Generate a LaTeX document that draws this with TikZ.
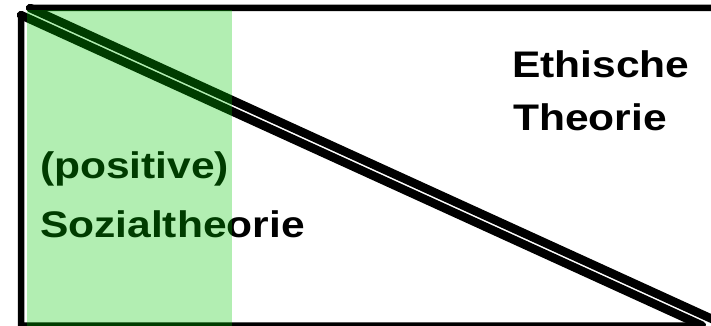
\documentclass[tikz,border=0pt]{standalone}
\usepackage{fontspec}
\setmainfont{Liberation Sans}
\begin{document}
\begin{tikzpicture}[x=1pt,y=-1pt,
  edge/.style={draw=black,line width=6.5pt,line join=round,line cap=round},
  hypo/.style={draw=black,line width=8.5pt,line cap=round},
  label/.style={anchor=base west,inner sep=0pt,outer sep=0pt,xscale=1.15,
    font=\fontsize{37}{44}\selectfont\bfseries},
  highlight/.style={fill={rgb,255:red,0;green,200;blue,0},fill opacity=0.3}]
\useasboundingbox (0,0) rectangle (711,326);
\coordinate (ua) at (30.1,8);
\coordinate (ub) at (800,8);
\coordinate (uc) at (800,359.1);
\coordinate (la) at (21,15.1);
\coordinate (lb) at (701.8,325.5);
\coordinate (lc) at (21,325.5);
\begin{scope}
\clip (0,0) rectangle (711,326);
% upper-right triangle
\draw[edge] (ua) -- (ub) -- (uc) -- cycle;
\draw[hypo] (ua) -- (uc);
% lower-left triangle
\draw[edge] (la) -- (lb) -- (lc) -- cycle;
\draw[hypo] (la) -- (lb);
\end{scope}
\node[label] (eth) at (512,78) {Ethische};
\node[label] (theo) at (513,130) {Theorie};
\node[label] (pos) at (40,178) {(positive)};
\node[label] (soz) at (40,237) {Sozialtheorie};
\fill[highlight] (27,10) rectangle (232,326);
\end{tikzpicture}
\end{document}
